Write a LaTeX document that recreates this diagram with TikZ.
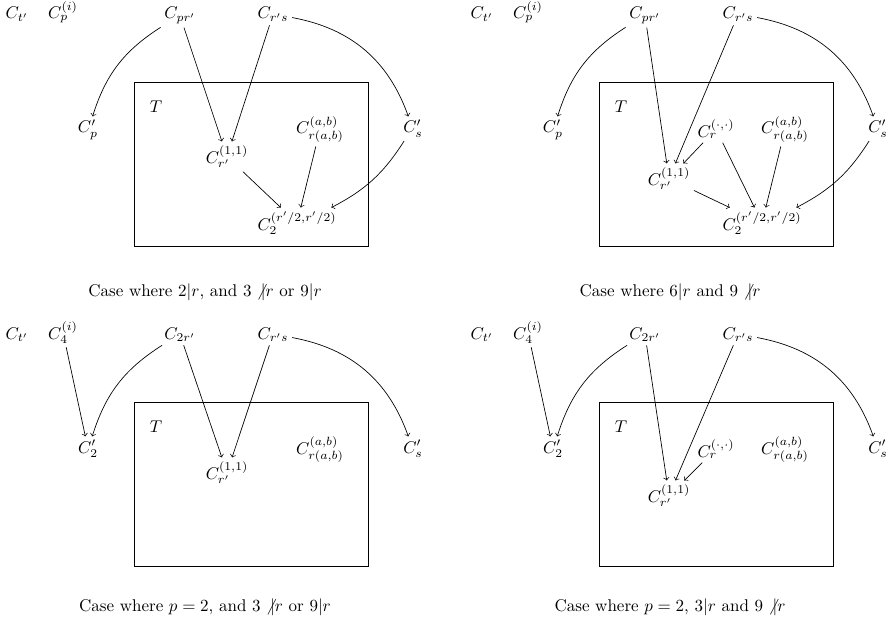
\documentclass[tikz,border=0pt]{standalone}
\usepackage{amsmath}
\usepackage{amssymb}
\begin{document}
\begin{tikzpicture}[x=0.588pt, y=-0.588pt,
  lbl/.style={anchor=base, inner sep=2pt}]
\useasboundingbox (0,0) rectangle (886,626);
\clip (0,0) rectangle (886,626);
% the four cases: name/shift/subscripts/place of C_{r'}^{(1,1)}/caption
\foreach \p/\dx/\dy/\sub/\q/\m/\xx/\yy/\cy/\txt in {
  a/0/0/p/p/p/227/163/296/{Case where $2|r$, and $3\not|r$ or $9|r$},
  b/465/0/p/p/p/204/185/296/{Case where $6|r$ and $9\not|r$},
  c/0/320/4/2/2/227/159/291/{Case where $p=2$, and $3\not|r$ or $9|r$},
  d/465/320/4/2/2/204/182/291/{Case where $p=2$, $3|r$ and $9\not|r$}} {
  \begin{scope}[shift={(\dx,\dy)}]
    \draw (134,82) rectangle (368,246);
    \node[lbl] (\p-T) at (156,112) {$T$};
    \node[lbl] (\p-ct) at (17,19) {$C_{t'}$};
    \node[lbl] (\p-ci) at (63,19) {$C_{\sub}^{(i)}$};
    \node[lbl] (\p-cm) at (180,19) {$C_{\m r'}$};
    \node[lbl] (\p-crs) at (273,19) {$C_{r's}$};
    \node[lbl] (\p-cq) at (88,133) {$C'_{\q}$};
    \node[lbl] (\p-cab) at (320,134) {$C_{r(a,b)}^{(a,b)}$};
    \node[lbl] (\p-cs) at (413,133) {$C'_s$};
    \node[lbl] (\p-c11) at (\xx,\yy) {$C_{r'}^{(1,1)}$};
    \node[anchor=base] (\p-cap) at (205,\cy) {\txt};
    \draw[->] (\p-cm) to[bend right=20] (\p-cq);
    \draw[->] (\p-cm) -- (\p-c11);
    \draw[->] (\p-crs) -- (\p-c11);
    \draw[->] (\p-crs) to[bend left=30] (\p-cs);
  \end{scope}
}
% C_2 only in the upper cases
\foreach \p/\dx in {a/0, b/465}
  \node[lbl] (\p-c2) at (297+\dx,230) {$C_2^{(r'/2,r'/2)}$};
\foreach \p in {a,b} {
  \draw[->] (\p-c11) -- (\p-c2);
  \draw[->] (\p-cab) -- (\p-c2);
  \draw[->] (\p-cs) to[bend left=15] (\p-c2);
}
% C_r^{(.,.)} only in the right cases
\foreach \p/\dy in {b/0, d/320}
  \node[lbl] (\p-cdot) at (716,137+\dy) {$C_r^{(\cdot,\cdot)}$};
\foreach \p in {b,d}
  \draw[->] (\p-cdot) -- (\p-c11);
\draw[->] (b-cdot) -- (b-c2);
\foreach \p in {c,d}
  \draw[->] (\p-ci) -- (\p-cq);
\end{tikzpicture}
\end{document}
